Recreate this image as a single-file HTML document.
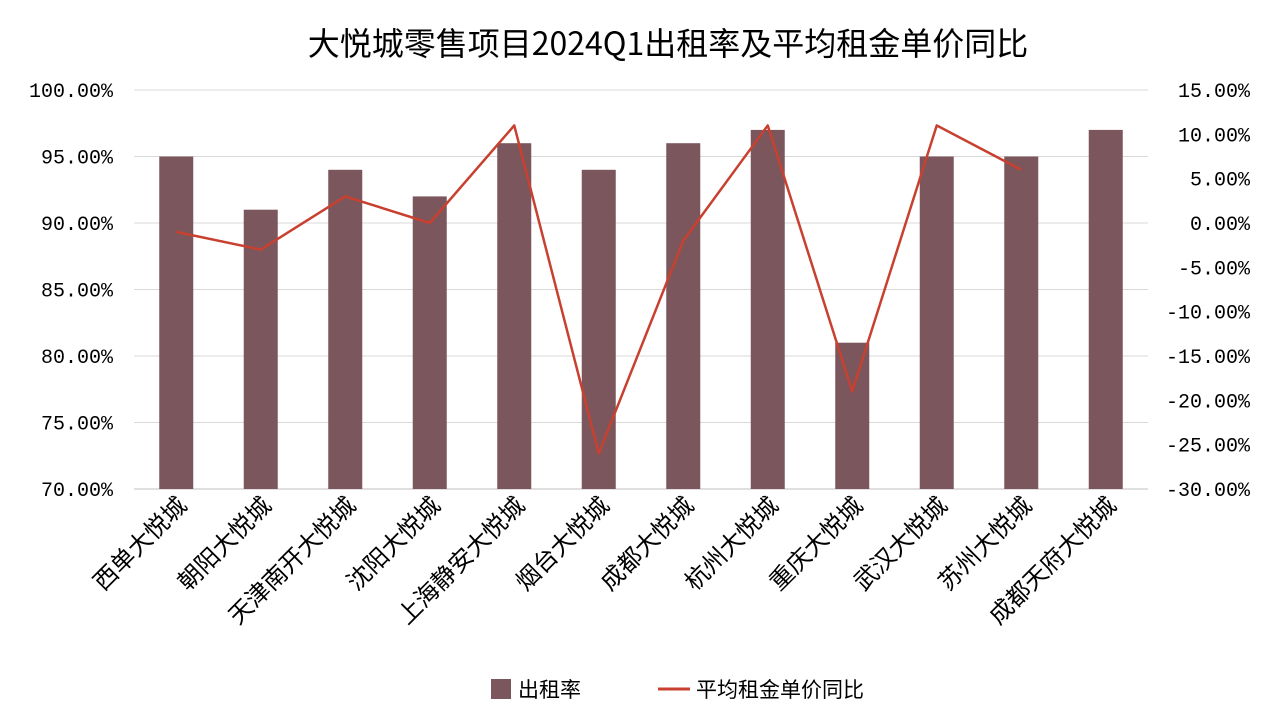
<!DOCTYPE html>
<html><head><meta charset="utf-8"><style>
body{margin:0;background:#fff;}
svg text{font-family:"Liberation Sans","Noto Sans CJK SC",sans-serif;fill:#000;}
svg text.tick{font-family:"Liberation Mono","Noto Sans CJK SC",monospace;}
</style></head><body>
<svg id="chart" width="1280" height="720" xmlns="http://www.w3.org/2000/svg">
<text x="668" y="55" text-anchor="middle" font-size="32" style="font-family:'Noto Sans CJK SC',sans-serif">大悦城零售项目2024Q1出租率及平均租金单价同比</text>
<g id="grid"></g><g id="bars"></g><g id="line"></g><g id="axes"></g>
<g>
<rect x="491" y="679" width="20" height="20" fill="#7b565c"/>
<text x="518" y="697" font-size="21">出租率</text>
<line x1="658" y1="689" x2="690" y2="689" stroke="#c8402f" stroke-width="3"/>
<text x="696" y="697" font-size="21">平均租金单价同比</text>
</g>
</svg>
<script>
const categories=["西单大悦城","朝阳大悦城","天津南开大悦城","沈阳大悦城","上海静安大悦城","烟台大悦城","成都大悦城","杭州大悦城","重庆大悦城","武汉大悦城","苏州大悦城","成都天府大悦城"];
const occupancy=[95,91,94,92,96,94,96,97,81,95,95,97];
const rentYoY=[-1,-3,3,0,11,-26,-2,11,-19,11,6,null];
const leftTicks=[70,75,80,85,90,95,100];
const rightTicks=[-30,-25,-20,-15,-10,-5,0,5,10,15];
const NS="http://www.w3.org/2000/svg";
const X0=134,X1=1148,Y0=489,Y1=90;
const step=(X1-X0)/categories.length;
const xc=i=>X0+step*(i+0.5);
const yL=v=>Y0-(v-70)/30*(Y0-Y1);
const yR=v=>Y0-(v+30)/45*(Y0-Y1);
function mk(tag,attrs,parent,text){const e=document.createElementNS(NS,tag);for(const k in attrs)e.setAttribute(k,attrs[k]);if(text!==undefined)e.textContent=text;document.getElementById(parent).appendChild(e);return e;}
leftTicks.forEach(t=>{
 const g=mk('line',{x1:X0,x2:X1,y1:yL(t),y2:yL(t),stroke:t===70?'#bfbfbf':'#d9d9d9','stroke-width':1},'grid');
 
 
 const l=mk('text',{class:'tick',x:113,y:yL(t)+7,'text-anchor':'end','font-size':20},'axes',t.toFixed(2)+'%');
 
 
});
rightTicks.forEach(t=>{
 const l=mk('text',{class:'tick',x:1250,y:yR(t)+7,'text-anchor':'end','font-size':20},'axes',t.toFixed(2)+'%');
 
 
});
categories.forEach((c,i)=>{
 const b=mk('rect',{x:xc(i)-17,y:yL(occupancy[i]),width:34,height:Y0-yL(occupancy[i]),fill:'#7b565c'},'bars');
 
 
 const x=xc(i)+12,y=507;
 const l=mk('text',{x:x,y:y,'text-anchor':'end','font-size':24,transform:`rotate(-45 ${x} ${y})`},'axes',c);
 
 
});
let pts=[];rentYoY.forEach((v,i)=>{if(v!==null)pts.push(xc(i)+','+yR(v));});
const pl=mk('polyline',{points:pts.join(' '),fill:'none',stroke:'#c8402f','stroke-width':2.5,'stroke-linejoin':'round'},'line');


</script>
</body></html>
